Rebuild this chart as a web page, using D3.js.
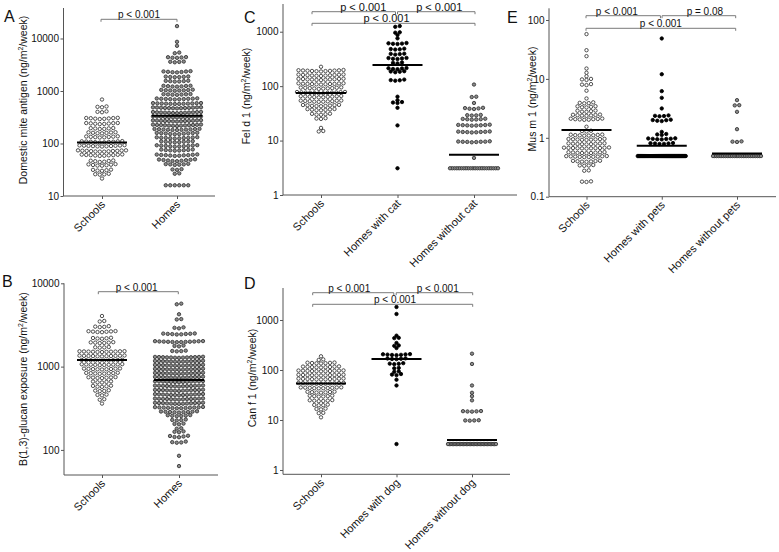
<!DOCTYPE html>
<html><head><meta charset="utf-8">
<script src="https://cdn.jsdelivr.net/npm/d3@7"></script>
<style>body{margin:0;background:#fff}svg{display:block}text{font-family:"Liberation Sans",Arial,sans-serif}</style>
</head><body><svg id="c" width="779" height="552"></svg>
<script>
// ---------- DATA ----------
const catsA = ["Schools", "Homes"];
const catsB = ["Schools", "Homes"];
const catsC = ["Schools", "Homes with cat", "Homes without cat"];
const catsD = ["Schools", "Homes with dog", "Homes without dog"];
const catsE = ["Schools", "Homes with pets", "Homes without pets"];

const ticksA = [10, 100, 1000, 10000];
const ticksB = [100, 1000, 10000];
const ticksC = [1, 10, 100, 1000];
const ticksD = [1, 10, 100, 1000];
const ticksE = [0.1, 1, 10, 100];

const pA = ["p < 0.001"];
const pB = ["p < 0.001"];
const pC = ["p < 0.001", "p < 0.001", "p < 0.001"];
const pD = ["p < 0.001", "p < 0.001", "p < 0.001"];
const pE = ["p < 0.001", "p = 0.08", "p < 0.001"];

const miteMedians = [104, 336];
const glucanMedians = [1200, 692];
const feld1Medians = [75, 244, 5.5];
const canf1Medians = [54, 166, 4.0];
const musm1Medians = [1.35, 0.73, 0.54];

const miteSchools = [688,
 499,508,490, 401,409,394,
 300,305,295,308,292,303,297,306,
 240,236,244,238,246,234,242,245,
 193,190,196,189,197,194,
 160,157,163,156,164,159,162,
 134,131,137,130,136,133,135,132,
 108,106,110,105,111,107,109,104,108,110,
 90,88,92,87.5,91,89,93,88.5,90.5,91.5,89.5,
 72,70.5,73.5,70,74,71.5,72.5,73,71,74,70,72.5,
 60,59,61,58.5,61.5,60.5,59.5,62,58,60,
 46,45,47,44.5,47.5,46.5,
 39,38,40,38.5,39.5,40.5,37.8,
 31,30.5,31.5,30.2,31.8,
 26,25.5,26.5,25.8,
 21.5];

const miteHomes = [17200, 8650, 7250, 5400,5250,
 4350,4280,4420,4300,4400,
 3580,3520,3640,3600,
 2320,2280,2360,2300,2350,2260,2390,
 1860,1830,1890,1850,1880,1840,
 1540,1520,1560,1510,1570,1545,
 1236,1215,1255,1225,1250,1210,1260,
 1035,1020,1050,1010,1045,1030,1060,1025,
 860,850,870,845,875,855,865,
 710,700,720,695,725,705,715,690,712,702,
 578,570,586,565,590,575,582,568,588,572,580,576,
 478,470,486,466,490,474,482,468,488,476,480,472,484,
 389,382,396,378,400,386,392,380,398,385,393,388,390,
 322,316,328,313,331,319,325,315,330,320,324,318,327,
 270,265,275,262,278,268,272,264,276,267,273,269,271,
 223,219,227,216,230,221,225,218,229,220,226,222,224,
 185,182,188,180,190,184,186,181,189,183,187,
 155,152,158,150,160,154,156,151,159,157,
 128,126,130,124,132,127,129,125,131,128,
 108,106,110,105,111,107,109,108,
 90,88,92,87,93,89,91,88.5,92.5,90,
 75,73.5,76.5,73,77,74.5,75.5,74,
 60,59,61,58,62,59.5,60.5,58.5,61.5,60,
 48,47,49,46.5,49.5,47.5,48.5,46,50,
 40,39,41,39.5,40.5,40,
 32,31.5,32.5, 27,26.5,
 16,16,16,16,16,16];

const glucanSchools = [4050, 3530,3480,
 3020,2980,3060,3000,
 2630,2600,2660,2590,2670,2620,2645,
 2190,2160,2220,2175,2205,
 1940,1915,1965,1925,1955,1940,
 1706,1690,1720,1700,
 1514,1500,1528,1495,1532,1508,1520,1505,1525,1512,1516,
 1343,1330,1356,1325,1360,1338,1348,1334,1352,1340,1346,
 1191,1180,1202,1175,1207,1186,1196,1183,1199,1193,
 1057,1047,1067,1043,1071,1052,1062,1050,1064,1055,
 937,928,946,924,950,933,941,930,944,
 832,824,840,820,844,828,836,834,
 738,731,745,728,748,735,741,
 655,648,662,645,665,
 581,575,587,572,590,
 515,510,520,508,
 457,452,462, 406,400, 360];

const glucanHomes = [5700,5600, 4250, 3720,3680, 2960,2920,2880,
 2466,2440,2490,2430,2500,2455,2480,2470,
 1995,1975,2015,1965,2025,1985,2005,1970,2020,1990,2000,1980,
 1770,1750,1790,
 1540,1525,1555,1535,
 1294,1280,1308,1275,1313,1288,1300,1283,1305,1290,1297,1286,1302,
 1159,1147,1171,1142,1176,1153,1165,1150,1168,1156,1162,1152,1166,
 1037,1026,1048,1022,1052,1032,1042,1029,1045,1035,1040,1033,1044,
 929,919,939,915,943,924,934,921,937,927,931,925,936,
 832,823,841,819,845,828,836,825,839,830,834,827,838,
 745,737,753,733,757,741,749,739,751,743,747,740,750,
 661,654,668,650,672,657,665,655,667,659,663,656,666,
 586,580,592,577,595,583,589,581,591,585,588,582,590,
 520,514,526,511,529,517,523,515,525,519,522,516,524,
 461,456,466,453,469,458,464,457,465,460,462,455,467,
 409,404,414,402,416,407,411,405,413,408,410,406,412,
 363,359,367,357,369,361,365,360,366,362,364,358,368,
 322,318,326,316,328,320,324,319,325,321,323,317,
 286,283,289,281,291,285,287,284,288,
 258,255,261,254,262,257,
 229,226,232,228,
 205,203,207, 182,180, 165,163,167,
 145,143,147,142,148,
 124,122,126,123,
 85, 64];

const feld1Schools = [227,
 192,188,196,186,198,190,194,189,195,191,193,
 159,156,162,154,164,158,160,155,163,157,161,
 133,130,136,129,137,132,134,131,135,133,136,
 110,108,112,107,113,109,111,108.5,112.5,110,109.5,
 92,90,94,89,95,91,93,90.5,93.5,92,
 76,74.5,77.5,74,78,75.5,76.5,75,77,73.8,78.2,76,
 64,62.5,65.5,62,66,63.5,64.5,63,65,64,
 53,52,54,51.5,54.5,52.5,53.5,51.8,54.2,53,
 44,43,45,42.7,45.3,43.5,44.5,43.2,44.8,
 37,36.2,37.8,36,38,36.6,37.4,
 30.5,30,31,29.8,31.2,
 25.4,25,25.8,
 17.1, 15,14.7];

const feld1Cat = [1270,1230, 975,960, 870, 755,
 620,605,595,612,600,
 480,470,488,475,
 388,395,380,392,
 323,318,328,315,330,
 268,262,272,
 211,207,215,205,213,
 184,180,188,186,
 129,126,132,128,
 64, 55, 50,49,51, 40, 19, 3.1];

const feld1NoCat = [107, 64,63, 49,
 39,38.5,39.5,38,40,
 29.3,29,29.6,28.8,
 24.7,24.4,25,24.2,25.2,24.6,
 19.2,19,19.4,18.8,19.6,19.1,19.3,18.9,
 14.4,14.2,14.6,14.1,14.7,14.3,14.5,14.4,
 9.5,9.4,9.6,9.3,9.7,9.45,9.55,9.5,
 4.8,
 3.1,3.1,3.1,3.1,3.1,3.1,3.1,3.1,3.1,3.1,3.1,
 3.1,3.1,3.1,3.1,3.1,3.1,3.1,3.1,3.1,3.1,3.1];

const canf1Schools = [188, 163,159,
 138,136,140,135,141,137,139,
 115,113,117,112,118,114,116,113.5,116.5,
 96,94.5,97.5,94,98,95,97,95.5,96.5,94.8,97.2,
 79,77.8,80.2,77.5,80.5,78.5,79.5,78,80,78.8,79.2,
 66,65,67,64.5,67.5,65.5,66.5,64.8,67.2,65.8,66.2,
 54,53.2,54.8,52.8,55.2,53.5,54.5,53,55,53.8,54.2,
 44,43.3,44.7,43,45,43.6,44.4,43.2,44.8,44,
 36,35.4,36.6,35.2,36.8,35.7,36.3,
 30,29.5,30.5,29.3,30.7,30,
 24.4,24,24.8,23.8,25,24.3,
 20,19.7,20.3,19.8,
 16.6,16.3,16.9, 13.9,13.7, 11.3];

const canf1Dog = [1820, 1318, 486, 440,434, 347, 310,304, 275,
 203,200,206,198,208,201,205,
 168,165,171,166,170,
 134,131,137,133,
 110,108, 94,92, 81,79,83,
 64, 49, 3.3];

const canf1NoDog = [212, 132, 49, 35, 30, 24.7,
 14.9,14.7,15.1,14.8,15,
 9.8,9.7,9.9,9.8,
 3.3,3.3,3.3,3.3,3.3,3.3,3.3,3.3,3.3,3.3,3.3,3.3,
 3.3,3.3,3.3,3.3,3.3,3.3,3.3,3.3,3.3,3.3,3.3,3.3,
 3.3,3.3,3.3,3.3,3.3,3.3,3.3,3.3,3.3,3.3,3.3];

const musm1Schools = [57.6, 30.7, 24.3, 15, 12.7, 11.1,
 9.8,9.6,10.0, 8.0,7.85,8.15, 6.3, 4.65,
 3.92,3.85,4.0,3.88,
 3.36,3.3,3.42,3.28,3.44,
 2.83,2.78,2.88,2.76,2.9,
 2.42,2.38,2.46,2.36,2.48,2.4,2.44,
 2.07,2.03,2.11,2.02,2.12,2.05,2.09,2.07,
 1.54, 1.30,1.28,1.32,
 1.11,1.09,1.13,1.085,1.135,1.1,1.12,1.105,
 0.94,0.925,0.955,0.92,0.96,0.935,0.945,0.93,0.95,
 0.79,0.777,0.803,0.773,0.807,0.785,0.795,0.78,0.8,
 0.67,0.66,0.68,0.655,0.685,0.665,0.675,0.662,0.678,0.668,0.672,
 0.56,0.551,0.569,0.548,0.572,0.556,0.564,0.553,0.567,
 0.48,0.472,0.488,0.47,0.49,0.476,0.484,0.474,0.486,0.48,
 0.40,0.394,0.406,0.392,0.408,0.397,0.403,
 0.34,0.335,0.345,0.338,
 0.28,0.276, 0.18,0.178,0.182];

const musm1Pets = [48.6, 12.0, 6.2, 4.77, 3.15,
 2.36,2.32,2.40,2.34,
 1.99,1.95,2.03,1.92,2.0,
 1.26, 1.14,1.12,1.16,
 0.96,0.945,0.975,0.94,0.98,0.955,0.965,
 0.80,0.79,0.81,0.785,0.815,0.8,
 0.49,0.49,0.49,0.49,0.49,0.49,0.49,0.49,0.49,0.49,0.49,0.49,
 0.49,0.49,0.49,0.49,0.49,0.49,0.49,0.49,0.49,0.49,0.49,0.49,
 0.49,0.49,0.49,0.49,0.49,0.49,0.49,0.49,0.49,0.49,0.49,0.49,
 0.49,0.49,0.49,0.49,0.49,0.49,0.49,0.49,0.49,0.49,0.49,0.49];

const musm1NoPets = [4.36, 3.58,3.55, 2.76, 1.40, 0.86,0.85,0.87,
 0.49,0.49,0.49,0.49,0.49,0.49,0.49,0.49,0.49,0.49,0.49,0.49,0.49,0.49,
 0.49,0.49,0.49,0.49,0.49,0.49,0.49,0.49,0.49,0.49,0.49,0.49,0.49,0.49];

// ---------- STYLE / LAYOUT ----------
const WHITE = "#ffffff", GREY = "#8a8a8a", BLACK = "#000000";
const EDGE = "#333333", AXC = "#555555", TXT = "#111111", BRC = "#7a7a7a";
const R = 1.7, SPACING = 4.5, MAX_HALF = 24, ROW_GAP = 1.6, ROW_MAX = 3.5, MED_HALF = 25;

const panels = [
 { letter: "A", lxy: [4, 22], cats: catsA, series: [miteSchools, miteHomes], medians: miteMedians,
   fills: [WHITE, GREY], strokes: [EDGE, EDGE], ticks: ticksA, domain: [10, 38100], yr: [196, 8],
   xr: [102, 177], ax: [63.5, 215], title: ["Domestic mite antigen (ng/m", "/week)"], tx: 27, ty: 100,
   pfont: 10, pl: pA,
   br: [{ a: 0, b: 1, d0: -1, d1: 0, y: 19.3, dl: 0 }] },
 { letter: "B", lxy: [2, 287], cats: catsB, series: [glucanSchools, glucanHomes], medians: glucanMedians,
   fills: [WHITE, GREY], strokes: [EDGE, EDGE], ticks: ticksB, domain: [50, 10000], yr: [475, 283.3],
   xr: [102, 179], ax: [64, 218], title: ["B(1,3)-glucan exposure (ng/m", "/week)"], tx: 27, ty: 379,
   pfont: 10, pl: pB,
   br: [{ a: 0, b: 1, d0: -3.7, d1: -0.7, y: 291.7, dl: -1.6 }] },
 { letter: "C", lxy: [244, 23], cats: catsC, series: [feld1Schools, feld1Cat, feld1NoCat], medians: feld1Medians,
   fills: [WHITE, BLACK, GREY], strokes: [EDGE, BLACK, EDGE], ticks: ticksC, domain: [1, 3230], yr: [195, 4],
   xr: [321, 474], ax: [283, 517], title: ["Fel d 1 (ng/m", "/week)"], tx: 250, ty: 96,
   pfont: 11, pl: pC,
   br: [{ a: 0, b: 1, d0: -9, d1: -2, y: 11.7, dl: 9.5 },
        { a: 1, b: 2, d0: 0, d1: 1, y: 11.7, dl: 3 },
        { a: 0, b: 2, d0: -9, d1: 1, y: 23.3, dl: -7 }] },
 { letter: "D", lxy: [244, 289], cats: catsD, series: [canf1Schools, canf1Dog, canf1NoDog], medians: canf1Medians,
   fills: [WHITE, BLACK, GREY], strokes: [EDGE, BLACK, EDGE], ticks: ticksD, domain: [0.82, 4365], yr: [474.3, 288],
   xr: [321, 472], ax: [283, 510], title: ["Can f 1 (ng/m", "/week)"], tx: 256, ty: 378,
   pfont: 10, pl: pD,
   br: [{ a: 0, b: 1, d0: -8.3, d1: -2.7, y: 292.7, dl: -4 },
        { a: 1, b: 2, d0: -0.3, d1: 0.7, y: 292.7, dl: 3.3 },
        { a: 0, b: 2, d0: -8.3, d1: 0.7, y: 304.3, dl: 2.3 }] },
 { letter: "E", lxy: [507, 23], cats: catsE, series: [musm1Schools, musm1Pets, musm1NoPets], medians: musm1Medians,
   fills: [WHITE, BLACK, GREY], strokes: [EDGE, BLACK, EDGE], ticks: ticksE, domain: [0.1, 158], yr: [196.7, 8.3],
   xr: [586.5, 737], ax: [549, 776], title: ["Mus m 1 (ng/m", "/week)"], tx: 536, ty: 99,
   pfont: 10, pl: pE,
   br: [{ a: 0, b: 1, d0: -0.5, d1: -1.3, y: 15.7, dl: -6.4 },
        { a: 1, b: 2, d0: 0.3, d1: -1.3, y: 15.7, dl: 6 },
        { a: 0, b: 2, d0: -0.5, d1: -1.3, y: 28.3, dl: 0 }] }
];

const svg = d3.select("#c");

function layout(vals, y, cx) {
  const pts = vals.map(v => ({ v, y: y(v) })).sort((a, b) => a.y - b.y);
  const rows = [];
  let cur = null, last = null;
  for (const p of pts) {
    if (!cur || p.y - last > ROW_GAP || p.y - cur.y0 > ROW_MAX) { cur = { y0: p.y, pts: [] }; rows.push(cur); }
    cur.pts.push(p); last = p.y;
  }
  for (const row of rows) {
    const n = row.pts.length;
    const s = n > 1 ? Math.min(SPACING, 2 * MAX_HALF / (n - 1)) : 0;
    const offs = d3.range(n).map(i => (i - (n - 1) / 2) * s)
      .sort((a, b) => Math.abs(a) - Math.abs(b) || a - b);
    row.pts.slice().sort((a, b) => b.y - a.y).forEach((p, i) => { p.x = cx + offs[i]; });
  }
  return pts;
}

for (const P of panels) {
  const g = svg.append("g");
  const y = d3.scaleLog().domain(P.domain).range(P.yr);
  const x = d3.scalePoint().domain(P.cats).range(P.xr);
  const yb = P.yr[0];

  // y axis
  const gy = g.append("g").attr("transform", `translate(${P.ax[0]},0)`)
    .call(d3.axisLeft(y).tickValues(P.ticks).tickFormat(d => String(d)).tickSize(3).tickSizeOuter(0).tickPadding(1.5));
  gy.select(".domain").attr("stroke", AXC).attr("d", `M0,${P.yr[1]}V${yb}`);
  gy.selectAll(".tick line").attr("stroke", AXC);
  gy.selectAll(".tick text").attr("fill", TXT).style("font-size", "10px").style("font-family", '"Liberation Sans",Arial,sans-serif');

  // x axis
  const gx = g.append("g").attr("transform", `translate(0,${yb})`)
    .call(d3.axisBottom(x).tickSize(3).tickSizeOuter(0).tickFormat(""));
  gx.select(".domain").attr("stroke", AXC).attr("d", `M${P.ax[0]},0H${P.ax[1]}`);
  gx.selectAll(".tick line").attr("stroke", AXC);
  gx.selectAll(".tick text").remove();
  g.selectAll(".xlab").data(P.cats).join("text")
    .attr("transform", d => `translate(${x(d) + 4},${yb + 9}) rotate(-45)`)
    .attr("text-anchor", "end").attr("fill", TXT).style("font-size", "11px").text(d => d);

  // y title
  const t = g.append("text").attr("transform", `translate(${P.tx},${P.ty}) rotate(-90)`)
    .attr("text-anchor", "middle").attr("fill", TXT).style("font-size", "10.5px");
  t.append("tspan").text(P.title[0]);
  t.append("tspan").attr("dy", -4).style("font-size", "7px").text("2");
  t.append("tspan").attr("dy", 4).text(P.title[1]);

  // letter
  g.append("text").attr("x", P.lxy[0]).attr("y", P.lxy[1]).attr("fill", TXT).style("font-size", "16px").text(P.letter);

  // points
  P.series.forEach((vals, i) => {
    const pts = layout(vals, y, x(P.cats[i]));
    g.append("g").selectAll("circle").data(pts).join("circle")
      .attr("cx", d => d.x).attr("cy", d => d.y).attr("r", R)
      .attr("fill", P.fills[i]).attr("stroke", P.strokes[i]).attr("stroke-width", 0.85);
  });

  // medians
  g.append("g").selectAll("line").data(P.medians).join("line")
    .attr("x1", (d, i) => x(P.cats[i]) - MED_HALF).attr("x2", (d, i) => x(P.cats[i]) + MED_HALF)
    .attr("y1", d => y(d)).attr("y2", d => y(d)).attr("stroke", BLACK).attr("stroke-width", 2);

  // brackets
  P.br.forEach((b, i) => {
    const x0 = x(P.cats[b.a]) + b.d0, x1 = x(P.cats[b.b]) + b.d1;
    g.append("path").attr("d", `M${x0},${b.y + 2.5}V${b.y}H${x1}V${b.y + 2.5}`)
      .attr("fill", "none").attr("stroke", BRC).attr("stroke-width", 1);
    g.append("text").attr("x", (x0 + x1) / 2 + b.dl).attr("y", b.y - 1.2)
      .attr("text-anchor", "middle").attr("fill", TXT).style("font-size", P.pfont + "px").text(P.pl[i]);
  });
}
</script></body></html>
